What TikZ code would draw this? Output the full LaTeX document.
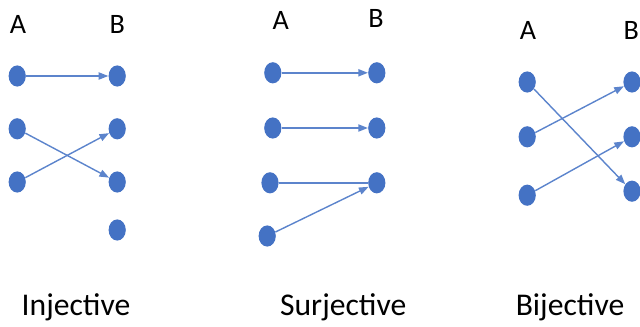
\documentclass[tikz,border=0pt]{standalone}
\usepackage{fontspec}
\setmainfont{Carlito}
\usetikzlibrary{arrows.meta,shapes.geometric}
\definecolor{dotblue}{RGB}{68,114,196}
\definecolor{lineblue}{RGB}{92,132,204}
\begin{document}
\begin{tikzpicture}
\tikzset{
    >={Triangle[length=2.4mm,width=1.8mm]},
    punto/.style={ellipse, fill=dotblue, inner sep=0pt, minimum width=0.43cm, minimum height=0.53cm},
    flecha/.style={->, line width=1pt, lineblue},
    conj/.style={font=\fontsize{20}{24}\selectfont},
    titulo/.style={font=\fontsize{22.5}{27}\selectfont}
}
\useasboundingbox (0,0) rectangle (16,-8.175);
% Injective
\node[conj] (ia) at (0.45,-0.62) {A};
\node[conj] (ib) at (2.93,-0.62) {B};
\node[punto] (ia1) at (0.43,-1.90) {};
\node[punto] (ia2) at (0.43,-3.22) {};
\node[punto] (ia3) at (0.43,-4.55) {};
\node[punto] (ib1) at (2.93,-1.90) {};
\node[punto] (ib2) at (2.93,-3.22) {};
\node[punto] (ib3) at (2.93,-4.55) {};
\node[punto] (ib4) at (2.93,-5.75) {};
\draw[flecha] (ia1) -- (ib1);
\draw[flecha] (ia2) -- (ib3);
\draw[flecha] (ia3) -- (ib2);
% Surjective
\node[conj] (sa) at (7.02,-0.50) {A};
\node[conj] (sb) at (9.40,-0.45) {B};
\node[punto] (sa1) at (6.82,-1.82) {};
\node[punto] (sa2) at (6.82,-3.20) {};
\node[punto] (sa3) at (6.75,-4.57) {};
\node[punto] (sa4) at (6.68,-5.90) {};
\node[punto] (sb1) at (9.42,-1.82) {};
\node[punto] (sb2) at (9.42,-3.20) {};
\node[punto] (sb3) at (9.42,-4.57) {};
\draw[flecha] (sa1) -- (sb1);
\draw[flecha] (sa2) -- (sb2);
\draw[flecha, -] (sa3) -- (sb3);
\draw[flecha] (sa4) -- (sb3);
% Bijective
\node[conj] (ba) at (13.20,-0.75) {A};
\node[conj] (bb) at (15.78,-0.75) {B};
\node[punto] (ba1) at (13.18,-2.05) {};
\node[punto] (ba2) at (13.18,-3.42) {};
\node[punto] (ba3) at (13.18,-4.88) {};
\node[punto] (bb1) at (15.80,-2.05) {};
\node[punto] (bb2) at (15.80,-3.42) {};
\node[punto] (bb3) at (15.80,-4.78) {};
\draw[flecha] (ba1) -- (bb3);
\draw[flecha] (ba2) -- (bb1);
\draw[flecha] (ba3) -- (bb2);
% Rótulos
\node[titulo] (ti) at (1.90,-7.68) {Injective};
\node[titulo] (ts) at (8.58,-7.68) {Surjective};
\node[titulo] (tb) at (14.25,-7.68) {Bijective};
\end{tikzpicture}
\end{document}
